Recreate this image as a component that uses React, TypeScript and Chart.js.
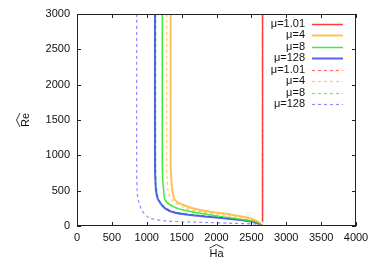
import React, { useEffect, useRef } from "react";
import { Chart, registerables } from "chart.js";

Chart.register(...registerables);

// ---- data (Ha, Re) ----
const haMu101 = [2660, 2660];
const reMu101 = [60, 3000];

const haMu4 = [1343, 1343, 1350, 1365, 1405, 1524, 1763, 2237, 2480, 2600, 2660];
const reMu4 = [3000, 900, 700, 520, 368, 297, 226, 156, 109, 60, 5];

const haMu8 = [1223, 1223, 1230, 1245, 1262, 1381, 1524, 1763, 2237, 2560, 2660];
const reMu8 = [3000, 900, 650, 480, 368, 273, 226, 180, 109, 55, 5];

const haMu128 = [1118, 1118, 1125, 1140, 1166, 1262, 1405, 1763, 2237, 2560, 2660];
const reMu128 = [3000, 900, 600, 450, 368, 250, 188, 142, 95, 50, 5];

const haMu101d = [2660, 2660];
const reMu101d = [60, 3000];

const haMu4d = [1286, 1286, 1292, 1310, 1358, 1524, 1763, 2237, 2560, 2660];
const reMu4d = [3000, 900, 650, 480, 368, 265, 202, 132, 65, 5];

const haMu8d = [1130, 1130, 1137, 1152, 1180, 1280, 1425, 1770, 2240, 2560, 2660];
const reMu8d = [3000, 900, 600, 450, 368, 255, 195, 150, 105, 55, 5];

const haMu128d = [856, 856, 862, 879, 928, 990, 1047, 1286, 1763, 2237, 2624, 2660];
const reMu128d = [3000, 800, 500, 368, 226, 150, 109, 71, 52, 38, 24, 5];

const labels = ["μ=1.01", "μ=4", "μ=8", "μ=128", "μ=1.01", "μ=4", "μ=8", "μ=128"];
const xTicks = [0, 500, 1000, 1500, 2000, 2500, 3000, 3500, 4000];
const yTicks = [0, 500, 1000, 1500, 2000, 2500, 3000];

const FONT = "Liberation Sans, Arial, Helvetica, sans-serif";

function pts(ha: number[], re: number[]) {
  return ha.map((x, i) => ({ x, y: re[i] }));
}

const hatPlugin = {
  id: "gnuframe",
  afterDatasetsDraw(chart: any) {
    const { ctx, chartArea: a, scales } = chart;
    const xs = scales.x;
    const ys = scales.y;
    ctx.save();
    // frame
    ctx.strokeStyle = "#222";
    ctx.lineWidth = 1;
    ctx.strokeRect(a.left + 0.5, a.top + 0.5, a.right - a.left - 1, a.bottom - a.top - 1);
    ctx.beginPath();
    xTicks.forEach((v) => {
      const px = Math.round(xs.getPixelForValue(v)) + 0.5;
      ctx.moveTo(px, a.bottom);
      ctx.lineTo(px, a.bottom - 4);
      ctx.moveTo(px, a.top);
      ctx.lineTo(px, a.top + 4);
    });
    yTicks.forEach((v) => {
      const py = Math.round(ys.getPixelForValue(v)) + 0.5;
      ctx.moveTo(a.left, py);
      ctx.lineTo(a.left + 4, py);
      ctx.moveTo(a.right, py);
      ctx.lineTo(a.right - 4, py);
    });
    ctx.stroke();

    // legend
    ctx.font = `11px ${FONT}`;
    ctx.textAlign = "right";
    ctx.textBaseline = "middle";
    chart.data.datasets.forEach((ds: any, i: number) => {
      const y = a.top + 9.5 + i * 11.5;
      ctx.fillStyle = "#111";
      ctx.fillText(ds.label, a.right - 51, y);
      ctx.beginPath();
      ctx.strokeStyle = ds.borderColor;
      ctx.lineWidth = ds.borderWidth;
      ctx.setLineDash(ds.borderDash || []);
      ctx.moveTo(a.right - 44, Math.round(y) + 0.5);
      ctx.lineTo(a.right - 13, Math.round(y) + 0.5);
      ctx.stroke();
      ctx.setLineDash([]);
    });

    // axis titles with wide hats
    ctx.fillStyle = "#111";
    ctx.strokeStyle = "#222";
    ctx.lineWidth = 0.9;
    const cx = (a.left + a.right) / 2;
    ctx.textAlign = "center";
    ctx.fillText("Ha", cx, 254);
    ctx.beginPath();
    ctx.moveTo(cx - 7, 248);
    ctx.lineTo(cx, 244.5);
    ctx.lineTo(cx + 7, 248);
    ctx.stroke();

    const cy = (a.top + a.bottom) / 2;
    ctx.translate(26, cy);
    ctx.rotate(-Math.PI / 2);
    ctx.fillText("Re", 0, 0);
    ctx.beginPath();
    ctx.moveTo(-7, -6);
    ctx.lineTo(0, -9.5);
    ctx.lineTo(7, -6);
    ctx.stroke();
    ctx.restore();
  },
};

export default function App() {
  const ref = useRef<HTMLCanvasElement | null>(null);
  useEffect(() => {
    document.body.style.margin = "0";
    const solid = (label: string, d: any[], color: string, w: number) => ({
      label,
      data: d,
      borderColor: color,
      backgroundColor: color,
      borderWidth: w,
      showLine: true,
      pointRadius: 0,
      tension: 0.3,
      fill: false,
    });
    const dashed = (label: string, d: any[], color: string) => ({
      ...solid(label, d, color, 1.2),
      borderDash: [3, 3],
    });
    const chart = new Chart(ref.current as HTMLCanvasElement, {
      type: "scatter",
      data: {
        datasets: [
          solid(labels[0], pts(haMu101, reMu101), "rgb(255,60,60)", 1.5),
          solid(labels[1], pts(haMu4, reMu4), "rgba(255,170,30,0.75)", 2),
          solid(labels[2], pts(haMu8, reMu8), "rgba(30,230,30,0.85)", 1.5),
          solid(labels[3], pts(haMu128, reMu128), "rgba(40,40,240,0.75)", 2),
          dashed(labels[4], pts(haMu101d, reMu101d), "rgba(255,80,80,0.85)"),
          dashed(labels[5], pts(haMu4d, reMu4d), "rgba(255,190,60,0.8)"),
          dashed(labels[6], pts(haMu8d, reMu8d), "rgba(40,255,40,0.8)"),
          dashed(labels[7], pts(haMu128d, reMu128d), "rgba(90,90,255,0.7)"),
        ] as any,
      },
      options: {
        animation: false,
        responsive: false,
        devicePixelRatio: 1,
        layout: { padding: { top: 14, right: 18, left: 0, bottom: 0 } },
        plugins: { legend: { display: false }, tooltip: { enabled: false } },
        scales: {
          x: {
            type: "linear",
            min: 0,
            max: 4000,
            afterFit: (s: any) => {
              s.height = 37;
            },
            afterBuildTicks: (s: any) => {
              s.ticks = xTicks.map((v) => ({ value: v }));
            },
            ticks: {
              font: { family: FONT, size: 11 },
              color: "#111",
              padding: 5,
              maxRotation: 0,
              callback: (v: any) => String(v),
            },
            grid: { display: false, drawTicks: false },
            border: { display: false },
          },
          y: {
            type: "linear",
            min: 0,
            max: 3000,
            afterFit: (s: any) => {
              s.width = 77;
            },
            afterBuildTicks: (s: any) => {
              s.ticks = yTicks.map((v) => ({ value: v }));
            },
            ticks: {
              font: { family: FONT, size: 11 },
              color: "#111",
              padding: 7,
              callback: (v: any) => String(v),
            },
            grid: { display: false, drawTicks: false },
            border: { display: false },
          },
        },
      },
      plugins: [hatPlugin],
    });
    return () => chart.destroy();
  }, []);
  return (
    <div style={{ width: 374, height: 263 }}>
      <canvas ref={ref} width={374} height={263} style={{ display: "block" }} />
    </div>
  );
}
